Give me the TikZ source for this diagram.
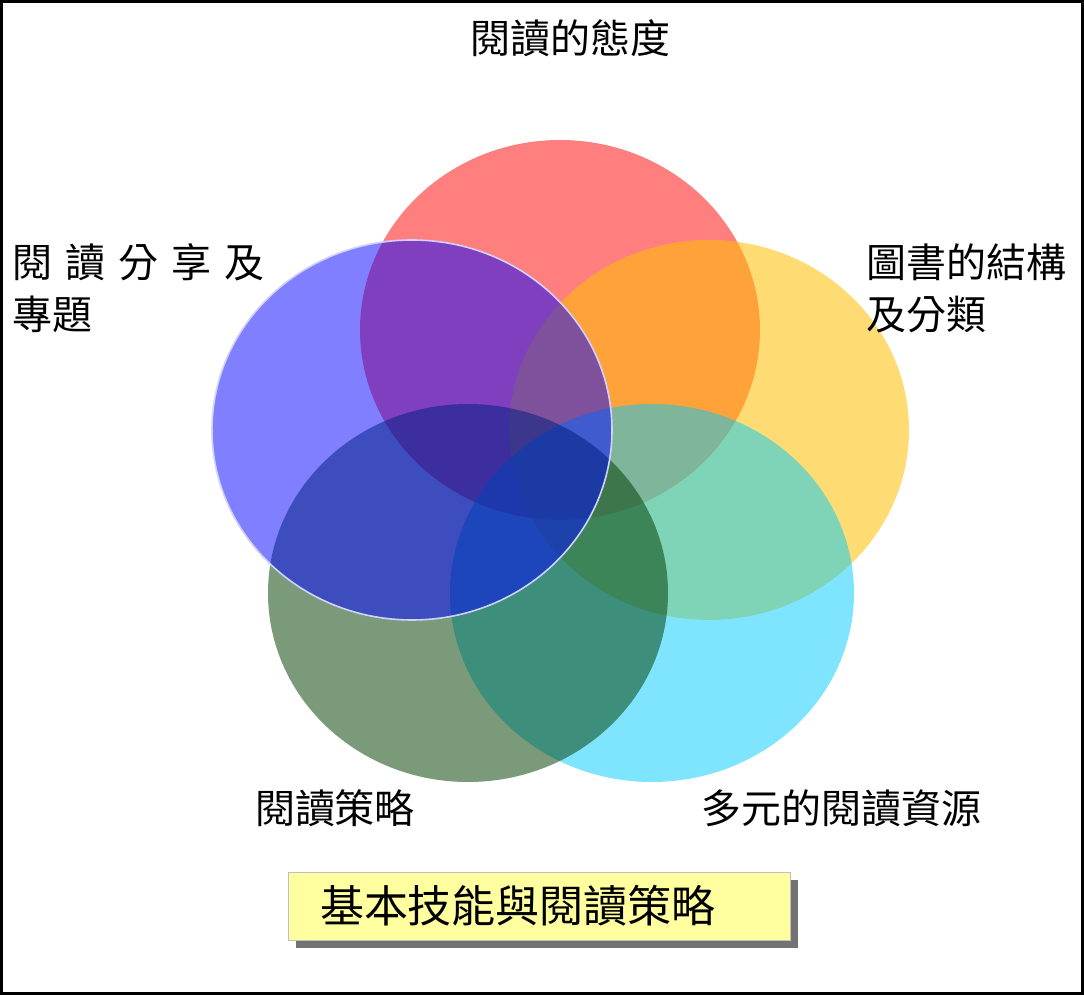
\documentclass[tikz,border=0pt]{standalone}
\usepackage{fontspec}
\newfontfamily\cjk{Noto Sans CJK TC}
\usetikzlibrary{positioning,shadows}

\definecolor{redA}{RGB}{255,0,0}
\definecolor{yellowA}{RGB}{255,192,0}
\definecolor{cyanA}{RGB}{0,204,255}
\definecolor{greenA}{RGB}{0,62,0}
\definecolor{blueA}{RGB}{0,0,255}
\definecolor{boxyellow}{RGB}{255,255,160}
\newcommand{\cgap}{\hspace{6.5pt}}

\begin{document}
\begin{tikzpicture}[x=0.5pt,y=-0.5pt,
    disc/.style={fill opacity=0.5},
    lbl/.style={font=\cjk\fontsize{20}{26}\selectfont,inner sep=0pt}]
        \useasboundingbox (0,0) rectangle (1084,995);
        \draw[line width=1.2pt] (1.5,1.5) rectangle (1082.5,993.5);
        % five overlapping discs
        \fill[redA,disc] (560,330) ellipse [x radius=200, y radius=190];
        \fill[yellowA,disc,fill opacity=0.55] (709,430) ellipse [x radius=200, y radius=190];
        \fill[cyanA,disc] (652,593) ellipse [x radius=202, y radius=189];
        \fill[greenA,disc,fill opacity=0.52] (468,593) ellipse [x radius=200, y radius=189];
        \fill[blueA,disc] (412,430) ellipse [x radius=200, y radius=190];
        \draw[white!82!blue,line width=0.8pt] (412,430) ellipse [x radius=200, y radius=190];
        % labels
        \node[lbl] (attitude) at (570,38) {閱讀的態度};
        \node[lbl,anchor=west,align=left] (share) at (12,288) {閱\cgap 讀\cgap 分\cgap 享\cgap 及\\專題};
        \node[lbl,anchor=west,align=left] (structure) at (866,288) {圖書的結構\\及分類};
        \node[lbl] (strategy) at (335,808) {閱讀策略};
        \node[lbl] (resource) at (841,808) {多元的閱讀資源};
        \node[draw=gray!50,fill=boxyellow,minimum height=34pt,text width=219pt,
              inner xsep=16pt,align=left,font=\cjk\fontsize{22}{26}\selectfont,
              drop shadow={shadow xshift=4pt,shadow yshift=-4pt,fill=gray!90!black,opacity=1}]
              (title) at (539,906) {基本技能與閱讀策略};
    \end{tikzpicture}
\end{document}
